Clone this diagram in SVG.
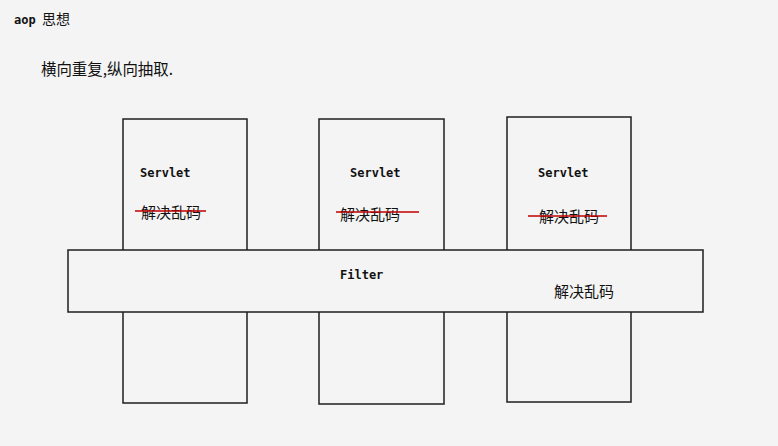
<svg xmlns="http://www.w3.org/2000/svg" width="778" height="446" viewBox="0 0 778 446">
<style>
.box{fill:none;stroke:#1e1e1e;stroke-width:1.5}
.band{fill:#f4f4f4;stroke:#1e1e1e;stroke-width:1.5}
.mono{font-family:"DejaVu Sans Mono","Liberation Mono",monospace;font-weight:bold;font-size:12px;fill:#111}
.cjk{font-family:"Noto Sans CJK SC","Noto Sans CJK JP",sans-serif;fill:#111}
.strike{stroke:#c00000;stroke-width:1.5}
</style>
<rect width="778" height="446" fill="#f4f4f4"/>
<g id="title">
<text x="14" y="24" class="mono">aop</text>
<text x="42" y="24" class="cjk" font-size="14">思想</text>
</g>
<g id="subtitle">
<text x="41" y="75" class="cjk" font-size="16" textLength="132" lengthAdjust="spacingAndGlyphs">横向重复,纵向抽取.</text>
</g>
<g id="servlet1">
<rect x="123" y="119" width="124" height="284" class="box"/>
<text x="140" y="177" class="mono">Servlet</text>
<text x="141" y="218" class="cjk" font-size="15">解决乱码</text>
<line x1="135" y1="211" x2="206" y2="211" class="strike"/>
</g>
<g id="servlet2">
<rect x="319" y="119" width="125" height="285" class="box"/>
<text x="350" y="177" class="mono">Servlet</text>
<text x="340" y="220" class="cjk" font-size="15">解决乱码</text>
<line x1="336" y1="212" x2="419" y2="212" class="strike"/>
</g>
<g id="servlet3">
<rect x="507" y="117" width="124" height="285" class="box"/>
<text x="538" y="177" class="mono">Servlet</text>
<text x="539" y="222" class="cjk" font-size="15">解决乱码</text>
<line x1="528" y1="216" x2="607" y2="216" class="strike"/>
</g>
<g id="filter">
<rect x="68" y="250" width="635" height="62" class="band"/>
<text x="340" y="279" class="mono">Filter</text>
<text x="554" y="297" class="cjk" font-size="15">解决乱码</text>
</g>
<g id="connectors"></g>
</svg>
